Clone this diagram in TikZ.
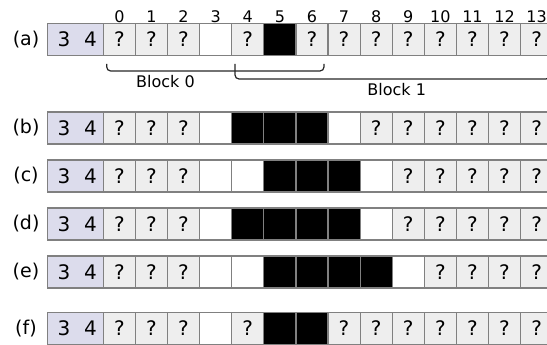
\documentclass[tikz,border=0pt]{standalone}
\usepackage{fontspec}
\setmainfont{DejaVu Sans}
\definecolor{hdrfill}{HTML}{DCDCEC}
\definecolor{qfill}{HTML}{EEEEEE}
\definecolor{gridgray}{HTML}{808080}
\tikzset{
  cell/.style={draw=gridgray, line width=1.2pt, minimum width=32.1pt, minimum height=32pt, inner sep=0pt, outer sep=0pt, font=\fontsize{20}{23}\selectfont},
  cellq/.style={cell, fill=qfill},
  cellw/.style={cell, fill=white},
  cellb/.style={cell, fill=black},
  hdr/.style={draw=gridgray, line width=1.2pt, fill=hdrfill, minimum width=56pt, minimum height=32pt, inner sep=0pt, outer sep=0pt},
  hdrtxt/.style={inner sep=0pt, font=\fontsize{20}{23}\selectfont},
  rowlab/.style={inner sep=0pt, font=\fontsize{19}{22}\selectfont},
  idx/.style={inner sep=0pt, font=\fontsize{16}{19}\selectfont},
  blocklab/.style={inner sep=0pt, font=\fontsize{16}{19}\selectfont},
  brace/.style={draw=black!85, line width=1.2pt, rounded corners=4pt}
}
\newcommand\memrow[3]{%
  \node[hdr] (#1h) at (75.3,#2) {};
  \node[hdrtxt] (#1hthree) at (64,#2) {3};
  \node[hdrtxt] (#1hfour) at (90.5,#2) {4};
  \node[rowlab] (#1lab) at (26,#2) {(#1)};
  \foreach \t [count=\i from 0] in {#3}{
    \node[cell\t] (#1\i) at ({103.3+32.1*\i+16.05},#2) {\if\t q?\fi};
  }%
}
\begin{document}
\begin{tikzpicture}[x=1pt,y=-1pt]
\useasboundingbox (0,0) rectangle (547,345);
\clip (0,0) rectangle (547,345);
\foreach \i in {0,...,13}{
  \node[idx] (idx\i) at ({103.3+32.1*\i+16.05},16.8) {\i};
}
\memrow{a}{39.5}{q,q,q,w,q,b,q,q,q,q,q,q,q,q}
\memrow{b}{128}{q,q,q,w,b,b,b,w,q,q,q,q,q,q}
\memrow{c}{176}{q,q,q,w,w,b,b,b,w,q,q,q,q,q}
\memrow{d}{224}{q,q,q,w,b,b,b,b,w,q,q,q,q,q}
\memrow{e}{272}{q,q,q,w,w,b,b,b,b,w,q,q,q,q}
\memrow{f}{328.3}{q,q,q,w,q,b,b,q,q,q,q,q,q,q}
% braces
\coordinate (b0l) at (106.7,64);
\coordinate (b0r) at (324,64);
\coordinate (b1l) at (235,64);
\coordinate (b1r) at (550,64);
\draw[brace] (b0l) -- ++(0,7) -| (b0r);
\draw[brace] (b1l) -- ++(0,15) -| (b1r);
\node[blocklab] (blk0) at (165.5,82) {Block 0};
\node[blocklab] (blk1) at (396.7,89.5) {Block 1};
\end{tikzpicture}
\end{document}
